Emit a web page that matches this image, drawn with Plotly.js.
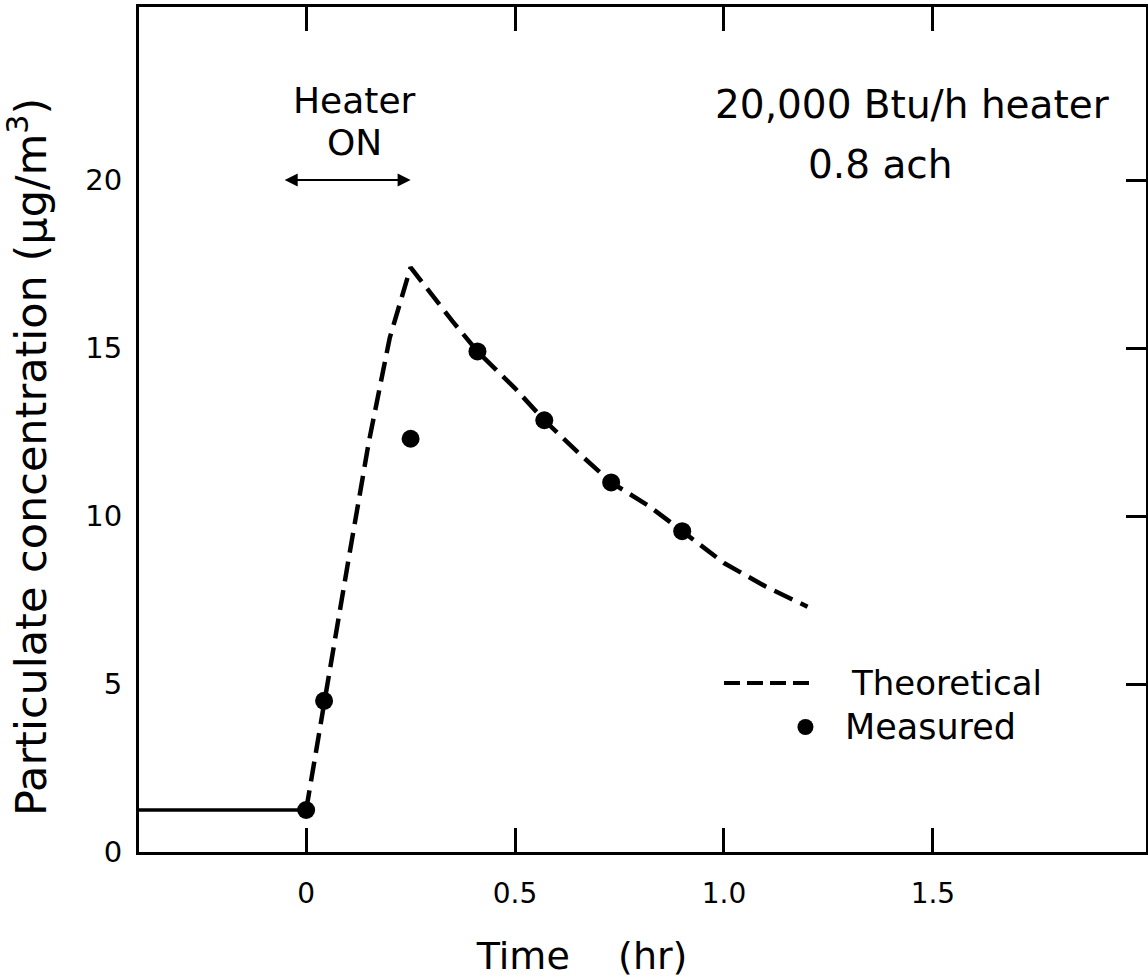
<!DOCTYPE html>
<html><head><meta charset="utf-8">
<script src="https://cdn.plot.ly/plotly-3.0.1.min.js"></script>
<style>html,body{margin:0;padding:0;background:#fff}</style>
</head><body><div id="chart" style="width:1148px;height:978px"></div>
<script>
// Data
const baselineTime = [-0.4, 0];
const baselineConc = [1.25, 1.25];
const theoryTime = [0, 0.05, 0.10, 0.15, 0.20, 0.25, 0.35, 0.41, 0.50, 0.57, 0.65, 0.73, 0.82, 0.90, 1.00, 1.10, 1.20];
const theoryConc = [1.25, 5.0, 8.6, 12.2, 15.3, 17.4, 15.8, 14.9, 13.8, 12.85, 11.9, 11.0, 10.3, 9.55, 8.6, 7.9, 7.3];
const measTime = [0, 0.043, 0.25, 0.41, 0.57, 0.73, 0.90];
const measConc = [1.25, 4.5, 12.3, 14.9, 12.85, 11.0, 9.55];
const xTickVals = [0, 0.5, 1.0, 1.5];
const xTickText = ['0', '0.5', '1.0', '1.5'];
const yTickVals = [0, 5, 10, 15, 20];
const yTickText = ['0', '5', '10', '15', '20'];
const rightTickVals = [5, 10, 15, 20];
const legendNames = ['Theoretical', 'Measured'];

const FONT = 'DejaVu Sans, sans-serif';
const xRange = [-0.4, 2.01];
const yRange = [0, 25.15];
const NB = '\u00a0';
const ZW = '\u200b';

const traces = [
  {x: baselineTime, y: baselineConc, mode: 'lines', line: {color: '#000', width: 3.5}, showlegend: false, hoverinfo: 'skip'},
  {x: theoryTime, y: theoryConc, mode: 'lines', name: legendNames[0], line: {color: '#000', width: 4.5, dash: '20px,9px'}, showlegend: false},
  {x: measTime, y: measConc, mode: 'markers', name: legendNames[1], marker: {color: '#000', size: 18}, showlegend: false},
  {x: [xRange[0]], y: [yRange[0]], yaxis: 'y2', mode: 'markers', marker: {opacity: 0}, showlegend: false, hoverinfo: 'skip'}
];

// legend placement (data coords)
const legX0 = 1.0, legX1 = 1.205, legY1 = 5.03, legY2 = 3.72, legTextX = 1.30;

const layout = {
  width: 1148, height: 978,
  margin: {l: 139, r: 2, t: 7, b: 126},
  paper_bgcolor: '#fff', plot_bgcolor: '#fff',
  font: {family: FONT, color: '#000', size: 28},
  showlegend: false,
  xaxis: {
    range: xRange, tickvals: xTickVals, ticktext: xTickText,
    ticks: 'inside', ticklen: 24, tickwidth: 3, tickcolor: '#000',
    showline: true, linewidth: 3, linecolor: '#000', mirror: 'ticks',
    showgrid: false, zeroline: false, ticklabelstandoff: 14,
    tickfont: {size: 28, family: FONT},
    title: {text: 'Time' + NB.repeat(4) + '(hr)' + NB.repeat(10) + ZW, font: {size: 38, family: FONT}, standoff: 38}
  },
  yaxis: {
    range: yRange, tickvals: yTickVals, ticktext: yTickText,
    ticks: '', showline: true, linewidth: 3, linecolor: '#000', mirror: true,
    showgrid: false, zeroline: false, ticklabelstandoff: 8,
    tickfont: {size: 29, family: FONT},
    title: {text: 'Particulate concentration (\u03bcg/m<sup>3</sup>)' + NB.repeat(4) + ZW, font: {size: 43, family: FONT}, standoff: 26}
  },
  yaxis2: {
    range: yRange, overlaying: 'y', side: 'right', tickvals: rightTickVals,
    ticks: 'inside', ticklen: 20, tickwidth: 3, tickcolor: '#000',
    showticklabels: false, showline: false, showgrid: false, zeroline: false
  },
  shapes: [
    {type: 'line', xref: 'x', yref: 'y', x0: legX0, x1: legX1, y0: legY1, y1: legY1, line: {color: '#000', width: 4, dash: '16px,7px'}},
    {type: 'circle', xref: 'x', yref: 'y', xsizemode: 'pixel', ysizemode: 'pixel', xanchor: legX1 - 0.01, yanchor: legY2, x0: -8, x1: 8, y0: -8, y1: 8, fillcolor: '#000', line: {width: 0}}
  ],
  annotations: [
    {x: legTextX, y: legY1, xref: 'x', yref: 'y', text: legendNames[0], showarrow: false, xanchor: 'left', yanchor: 'middle', font: {size: 34}},
    {x: legTextX - 0.015, y: legY2, xref: 'x', yref: 'y', text: legendNames[1], showarrow: false, xanchor: 'left', yanchor: 'middle', font: {size: 35}},
    {x: 0.115, y: 22.38, xref: 'x', yref: 'y', text: 'Heater', showarrow: false, font: {size: 36}},
    {x: 0.115, y: 21.13, xref: 'x', yref: 'y', text: 'ON', showarrow: false, font: {size: 36}},
    {x: 0.25, y: 20, ax: -0.055, ay: 20, xref: 'x', yref: 'y', axref: 'x', ayref: 'y', text: '', showarrow: true, arrowside: 'end+start', arrowhead: 2, arrowsize: 1.3, arrowwidth: 2, arrowcolor: '#000'},
    {x: 1.452, y: 22.26, xref: 'x', yref: 'y', text: '20,000 Btu/h heater', showarrow: false, font: {size: 39}},
    {x: 1.373, y: 20.45, xref: 'x', yref: 'y', text: '0.8 ach', showarrow: false, font: {size: 39}}
  ]
};

Plotly.newPlot('chart', traces, layout, {displayModeBar: false, staticPlot: true});
</script>
</body></html>
